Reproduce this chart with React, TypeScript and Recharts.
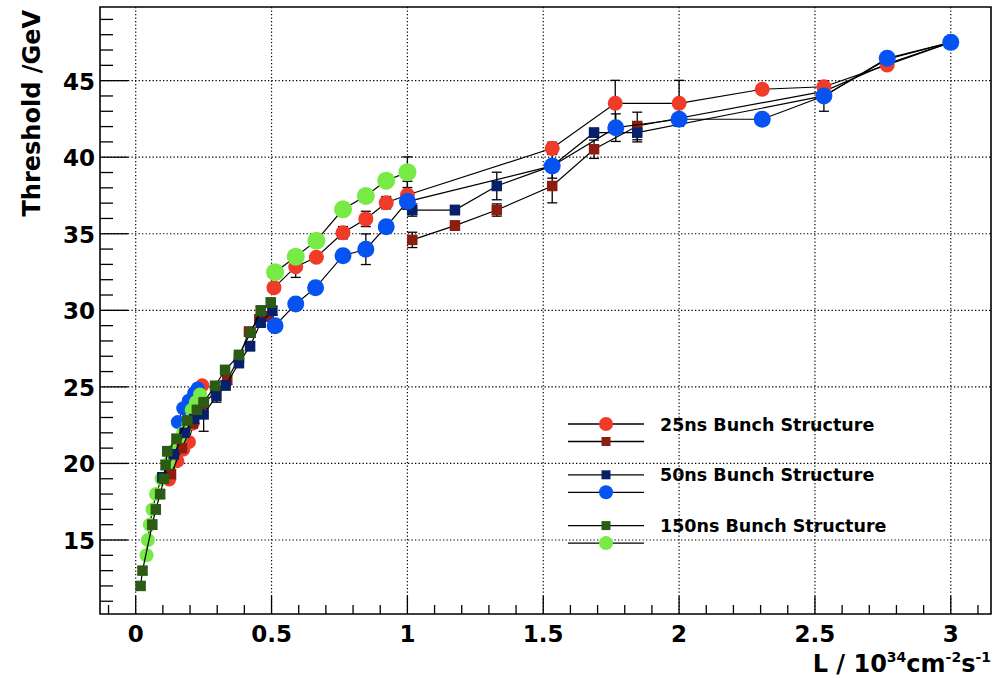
import {
  ScatterChart,
  Scatter,
  XAxis,
  YAxis,
  CartesianGrid,
  ErrorBar,
  ReferenceArea,
  Legend,
} from 'recharts';

// [luminosity (1e34 cm^-2 s^-1), threshold (GeV), error (GeV)]
type Pt = [number, number, number];

// 25ns bunch structure
const red25Low: Pt[] = [
  [0.123, 18.95, 0.2], [0.153, 20.15, 0.2], [0.175, 20.9, 0.2], [0.196, 21.4, 0.2],
  [0.21, 22.6, 0.2], [0.225, 23.8, 0.2], [0.245, 25.1, 0.2],
];
const red25High: Pt[] = [
  [0.509, 31.48, 0.3], [0.589, 32.85, 0.7], [0.665, 33.47, 0.3], [0.763, 35.07, 0.4],
  [0.847, 35.97, 0.5], [0.922, 37.03, 0.4], [1.0, 37.53, 0.9], [1.533, 40.58, 0.4],
  [1.765, 43.52, 1.5], [2.0, 43.52, 1.5], [2.306, 44.44, 0.3], [2.533, 44.6, 0.3],
  [2.766, 46.03, 0.3], [3.0, 47.5, 0.3],
];
const darkRed25Low: Pt[] = [
  [0.13, 19.3, 0.3], [0.17, 21.0, 0.3], [0.21, 22.6, 0.3], [0.25, 23.9, 0.3],
  [0.295, 24.7, 0.3], [0.337, 25.45, 0.3], [0.38, 26.9, 0.3], [0.417, 28.6, 0.3],
  [0.455, 29.4, 0.3], [0.49, 29.6, 0.3],
];
const darkRed25High: Pt[] = [
  [1.018, 34.6, 0.5], [1.175, 35.53, 0.3], [1.329, 36.55, 0.4], [1.533, 38.12, 1.1],
  [1.687, 40.52, 0.6], [1.846, 42.04, 0.9], [2.533, 44.3, 0.3], [2.766, 46.1, 0.3],
  [3.0, 47.5, 0.3],
];

// 50ns bunch structure
const navy50Low: Pt[] = [
  [0.098, 19.1, 0.3], [0.14, 20.6, 0.3], [0.18, 22.0, 0.3], [0.215, 22.9, 0.3],
  [0.25, 23.2, 1.1], [0.297, 24.4, 0.4], [0.331, 25.1, 0.3], [0.38, 26.56, 0.3],
  [0.421, 27.66, 0.3], [0.46, 29.2, 0.3], [0.503, 29.97, 0.3],
];
const navy50High: Pt[] = [
  [1.018, 36.55, 0.4], [1.175, 36.55, 0.3], [1.329, 38.12, 0.9], [1.533, 39.43, 0.3],
  [1.687, 41.6, 0.3], [1.846, 41.6, 0.6], [2.533, 44.0, 0.3], [2.766, 46.4, 0.3],
  [3.0, 47.5, 0.3],
];
const blue50Low: Pt[] = [
  [0.155, 22.7, 0.2], [0.175, 23.6, 0.2], [0.195, 24.1, 0.2], [0.215, 24.6, 0.2],
  [0.228, 24.9, 0.2],
];
const blue50High: Pt[] = [
  [0.513, 29.0, 0.3], [0.589, 30.41, 0.3], [0.662, 31.48, 0.3], [0.763, 33.57, 0.3],
  [0.847, 33.99, 1.0], [0.922, 35.46, 0.3], [1.0, 37.1, 0.5], [1.533, 39.43, 0.8],
  [1.767, 41.93, 0.9], [2.0, 42.48, 0.3], [2.306, 42.48, 0.3], [2.533, 44.0, 1.0],
  [2.766, 46.46, 0.3], [3.0, 47.5, 0.3],
];

// 150ns bunch structure
const darkGreen150Low: Pt[] = [
  [0.018, 12.0, 0.2], [0.025, 13.0, 0.2], [0.061, 16.0, 0.3], [0.074, 17.0, 0.3],
  [0.09, 18.0, 0.3], [0.104, 19.0, 0.3], [0.11, 19.9, 0.3], [0.116, 20.8, 0.3],
  [0.15, 21.6, 0.3], [0.19, 22.8, 0.3], [0.225, 23.5, 0.3], [0.251, 24.0, 0.3],
  [0.292, 25.06, 0.3], [0.329, 26.1, 0.3], [0.38, 27.08, 0.3], [0.423, 28.54, 0.3],
  [0.46, 29.98, 0.3], [0.497, 30.5, 0.3],
];
const green150Low: Pt[] = [
  [0.04, 14.0, 0.2], [0.045, 15.0, 0.2], [0.052, 16.0, 0.2], [0.062, 17.0, 0.2],
  [0.075, 18.0, 0.2], [0.095, 19.0, 0.2], [0.12, 20.0, 0.2], [0.14, 20.8, 0.2],
  [0.157, 21.4, 0.2], [0.175, 22.0, 0.2], [0.194, 22.6, 0.2], [0.206, 23.5, 0.2],
  [0.222, 24.0, 0.2], [0.237, 24.5, 0.2],
];
const green150High: Pt[] = [
  [0.513, 32.49, 0.3], [0.589, 33.5, 0.3], [0.665, 34.55, 0.3], [0.763, 36.6, 0.3],
  [0.847, 37.47, 0.3], [0.922, 38.47, 0.3], [1.0, 39.02, 1.0],
];

const xTicks = [
  -0.1, 0, 0.1, 0.2, 0.3, 0.4, 0.5, 0.6, 0.7, 0.8, 0.9, 1, 1.1, 1.2, 1.3, 1.4, 1.5, 1.6,
  1.7, 1.8, 1.9, 2, 2.1, 2.2, 2.3, 2.4, 2.5, 2.6, 2.7, 2.8, 2.9, 3, 3.1,
];
const xMajor = [0, 0.5, 1, 1.5, 2, 2.5, 3];
const yTicks = [
  11, 12, 13, 14, 15, 16, 17, 18, 19, 20, 21, 22, 23, 24, 25, 26, 27, 28, 29, 30,
  31, 32, 33, 34, 35, 36, 37, 38, 39, 40, 41, 42, 43, 44, 45, 46, 47, 48, 49,
];
const yMajor = [15, 20, 25, 30, 35, 40, 45];

const legendLabels = ['25ns Bunch Structure', '50ns Bunch Structure', '150ns Bunch Structure'];

const RED = '#ef3b28';
const DARK_RED = '#8c1d0f';
const NAVY = '#06206b';
const BLUE = '#0653f2';
const DARK_GREEN = '#2c5b15';
const LIGHT_GREEN = '#78ea46';

const FONT = "'DejaVu Sans', 'Liberation Sans', sans-serif";
const X_DOMAIN: [number, number] = [-0.1314, 3.148];
const Y_DOMAIN: [number, number] = [10.167, 49.81];

const toRows = (pts: Pt[]) => pts.map(([x, y, e]) => ({ x, y, e }));

const dot = (r: number, fill: string) => (p: any) => (
  <circle cx={p.cx} cy={p.cy} r={r} fill={fill} />
);
const box = (s: number, fill: string) => (p: any) => (
  <rect x={p.cx - s / 2} y={p.cy - s / 2} width={s} height={s} fill={fill} />
);

// drawing order: low circles, low squares, high squares, high circles
const segments = [
  { pts: red25Low, shape: dot(7, RED) },
  { pts: blue50Low, shape: dot(7, BLUE) },
  { pts: green150Low, shape: dot(7, LIGHT_GREEN) },
  { pts: darkRed25Low, shape: box(10.5, DARK_RED) },
  { pts: navy50Low, shape: box(10.5, NAVY) },
  { pts: darkGreen150Low, shape: box(10.5, DARK_GREEN) },
  { pts: darkRed25High, shape: box(10.5, DARK_RED) },
  { pts: navy50High, shape: box(10.5, NAVY) },
  { pts: red25High, shape: dot(7.5, RED) },
  { pts: blue50High, shape: dot(8.5, BLUE) },
  { pts: green150High, shape: dot(9, LIGHT_GREEN) },
];

const legendMarks = [
  [{ kind: 'circle', color: RED }, { kind: 'square', color: DARK_RED }],
  [{ kind: 'square', color: NAVY }, { kind: 'circle', color: BLUE }],
  [{ kind: 'square', color: DARK_GREEN }, { kind: 'circle', color: LIGHT_GREEN }],
];

const XTick = (props: any) => {
  const { x, y, payload } = props;
  const major = xMajor.includes(payload.value);
  return (
    <g>
      <line x1={x} x2={x} y1={y} y2={y - (major ? 18 : 9)} stroke="#000" strokeWidth={1.3} />
      {major && (
        <text x={x} y={y + 28} textAnchor="middle" fontFamily={FONT} fontWeight="bold" fontSize={23} fill="#000">
          {payload.value}
        </text>
      )}
    </g>
  );
};

const YTick = (props: any) => {
  const { x, y, payload } = props;
  const major = yMajor.includes(payload.value);
  return (
    <g>
      <line x1={x} x2={x + (major ? 28 : 13)} y1={y} y2={y} stroke="#000" strokeWidth={1.3} />
      {major && (
        <text x={x - 5} y={y + 9} textAnchor="end" fontFamily={FONT} fontWeight="bold" fontSize={23} fill="#000">
          {payload.value}
        </text>
      )}
    </g>
  );
};

const YTitle = () => (
  <text
    transform="translate(40,10) rotate(-90)"
    textAnchor="end"
    fontFamily={FONT}
    fontWeight="bold"
    fontSize={24}
    fill="#000"
  >
    Threshold /GeV
  </text>
);

const XTitle = () => (
  <text x={991} y={672} textAnchor="end" fontFamily={FONT} fontWeight="bold" fontSize={24} fill="#000">
    L / 10
    <tspan dy={-10} fontSize={14}>34</tspan>
    <tspan dy={10}>cm</tspan>
    <tspan dy={-10} fontSize={14}>-2</tspan>
    <tspan dy={10}>s</tspan>
    <tspan dy={-10} fontSize={14}>-1</tspan>
  </text>
);

const LegendBox = () => (
  <svg width={340} height={150} style={{ display: 'block' }}>
    {legendLabels.map((label, i) => {
      const top = 19 + i * 50.8;
      return (
        <g key={label}>
          {legendMarks[i].map((m, j) => {
            const y = top + j * 17.5;
            return (
              <g key={j}>
                <line x1={8} x2={84} y1={y} y2={y} stroke="#000" strokeWidth={1.3} />
                {m.kind === 'circle' ? (
                  <circle cx={46} cy={y} r={7} fill={m.color} />
                ) : (
                  <rect x={41.5} y={y - 4.5} width={9} height={9} fill={m.color} />
                )}
              </g>
            );
          })}
          <text x={100} y={top + 6.5} fontFamily={FONT} fontWeight="bold" fontSize={17.5} fill="#000">
            {label}
          </text>
        </g>
      );
    })}
  </svg>
);

export default function App() {
  return (
    <div style={{ position: 'absolute', left: 0, top: 0, background: '#fff' }}>
      <ScatterChart width={994} height={678} margin={{ top: 7, right: 3, bottom: 0, left: 0 }}>
        <CartesianGrid
          horizontalValues={yMajor}
          verticalValues={xMajor}
          stroke="#000"
          strokeWidth={1.2}
          strokeDasharray="1.3 2.2"
        />
        <XAxis
          type="number"
          dataKey="x"
          domain={X_DOMAIN}
          allowDataOverflow
          ticks={xTicks}
          interval={0}
          tickSize={0}
          tickMargin={0}
          tickLine={false}
          axisLine={false}
          tick={<XTick />}
          height={64}
          label={<XTitle />}
        />
        <YAxis
          type="number"
          dataKey="y"
          domain={Y_DOMAIN}
          allowDataOverflow
          ticks={yTicks}
          interval={0}
          tickSize={0}
          tickMargin={0}
          tickLine={false}
          axisLine={false}
          tick={<YTick />}
          width={100}
          label={<YTitle />}
        />
        <ReferenceArea
          x1={X_DOMAIN[0]}
          x2={X_DOMAIN[1]}
          y1={Y_DOMAIN[0]}
          y2={Y_DOMAIN[1]}
          fill="none"
          stroke="#000"
          strokeWidth={1.6}
          ifOverflow="visible"
        />
        {segments.map((s, i) => (
          <Scatter
            key={i}
            data={toRows(s.pts)}
            shape={s.shape}
            line={{ stroke: '#000', strokeWidth: 1.2 }}
            legendType="none"
            isAnimationActive={false}
          >
            <ErrorBar dataKey="e" direction="y" width={5} stroke="#000" strokeWidth={1.3} isAnimationActive={false} />
          </Scatter>
        ))}
        <Legend
          layout="vertical"
          align="center"
          verticalAlign="middle"
          wrapperStyle={{ left: 560, top: 405, width: 340, height: 150 }}
          content={<LegendBox />}
        />
      </ScatterChart>
    </div>
  );
}
